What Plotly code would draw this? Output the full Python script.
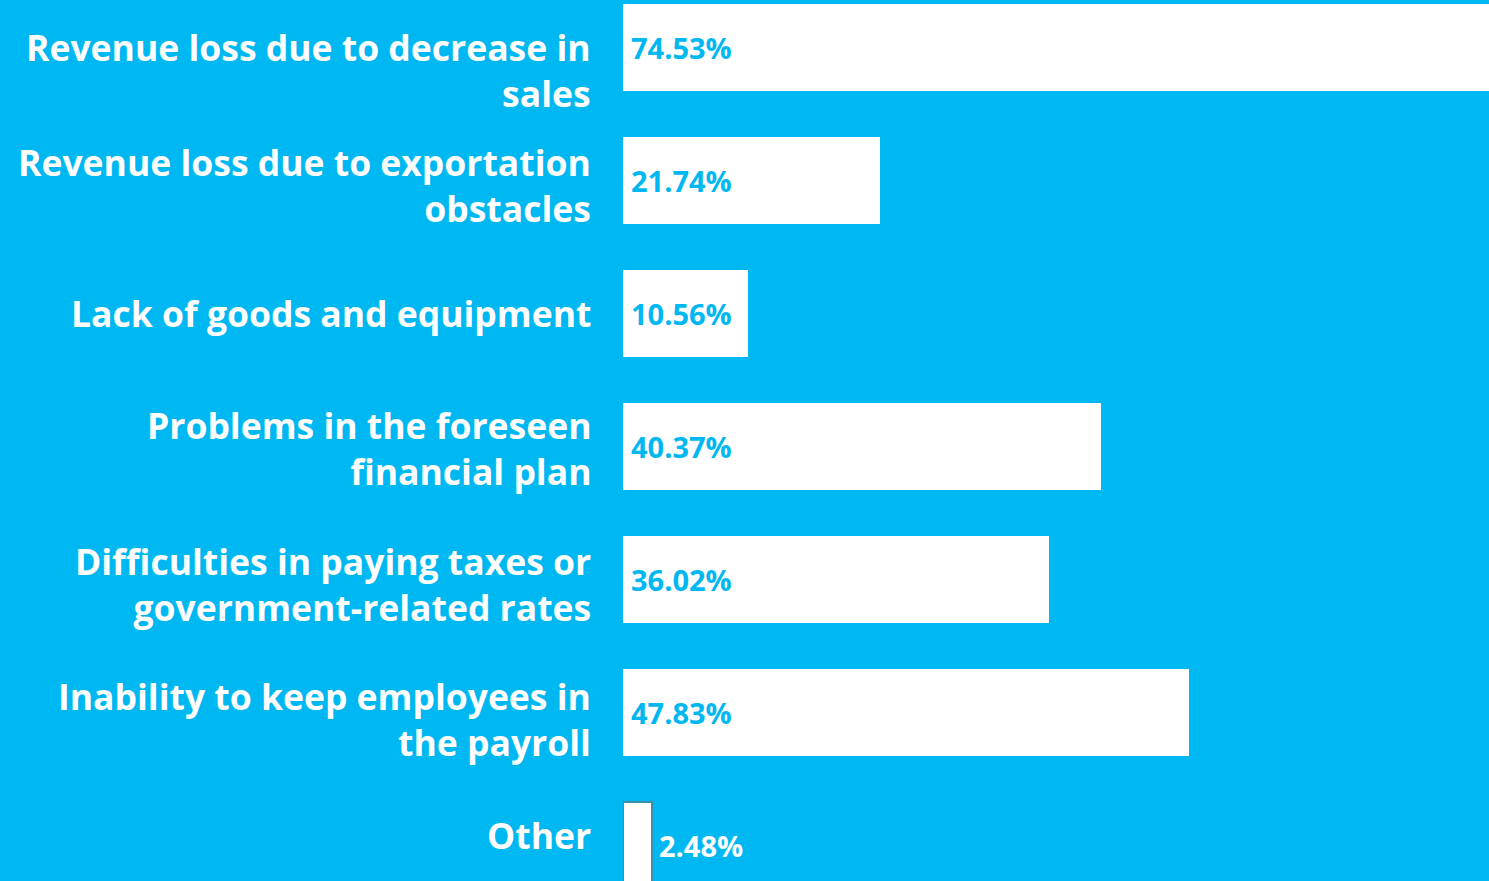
import plotly.graph_objects as go

categories = [
    "Revenue loss due to decrease in<br>sales",
    "Revenue loss due to exportation<br>obstacles",
    "Lack of goods and equipment",
    "Problems in the foreseen<br>financial plan",
    "Difficulties in paying taxes or<br>government-related rates",
    "Inability to keep employees in<br>the payroll",
    "Other",
]
values = [74.53, 21.74, 10.56, 40.37, 36.02, 47.83, 2.48]
value_labels = ["74.53%", "21.74%", "10.56%", "40.37%", "36.02%", "47.83%", "2.48%"]

BG = "#00B8F1"
positions = list(range(len(categories)))
label_shifts = [-23, -5, 0, -2, -5, -7, 10]

fig = go.Figure()
fig.add_trace(go.Bar(
    x=values,
    y=positions,
    orientation="h",
    width=0.66,
    cliponaxis=False,
    marker=dict(
        color="white",
        line=dict(color=["white"] * 6 + ["#3E8FA8"], width=[0] * 6 + [2]),
    ),
    hoverinfo="skip",
))

annotations = []
for i, (cat, v, lab) in enumerate(zip(categories, values, value_labels)):
    annotations.append(dict(
        x=0, xref="paper", y=i, yref="y", text=cat, showarrow=False,
        xanchor="right", yanchor="middle", align="right", xshift=-30,
        yshift=label_shifts[i],
        font=dict(family="Open Sans", size=35.5, color="white", weight=700),
    ))
    inside = v > 5
    annotations.append(dict(
        x=0 if inside else v, xref="x", y=i, yref="y", text=lab, showarrow=False,
        xanchor="left", yanchor="middle", xshift=6 if inside else 5,
        font=dict(family="Open Sans", size=29, color=BG if inside else "white", weight=700),
    ))

fig.update_layout(
    width=1489, height=881,
    margin=dict(l=623, r=0, t=0, b=0),
    paper_bgcolor=BG, plot_bgcolor=BG,
    showlegend=False,
    annotations=annotations,
    xaxis=dict(range=[0, 73.14], visible=False, fixedrange=True),
    yaxis=dict(range=[6.267, -0.357], visible=False, fixedrange=True),
    bargap=0,
)

fig.write_html("out.html", config={"displayModeBar": False},
               post_script="document.body.style.margin='0';document.body.style.overflow='hidden';")
